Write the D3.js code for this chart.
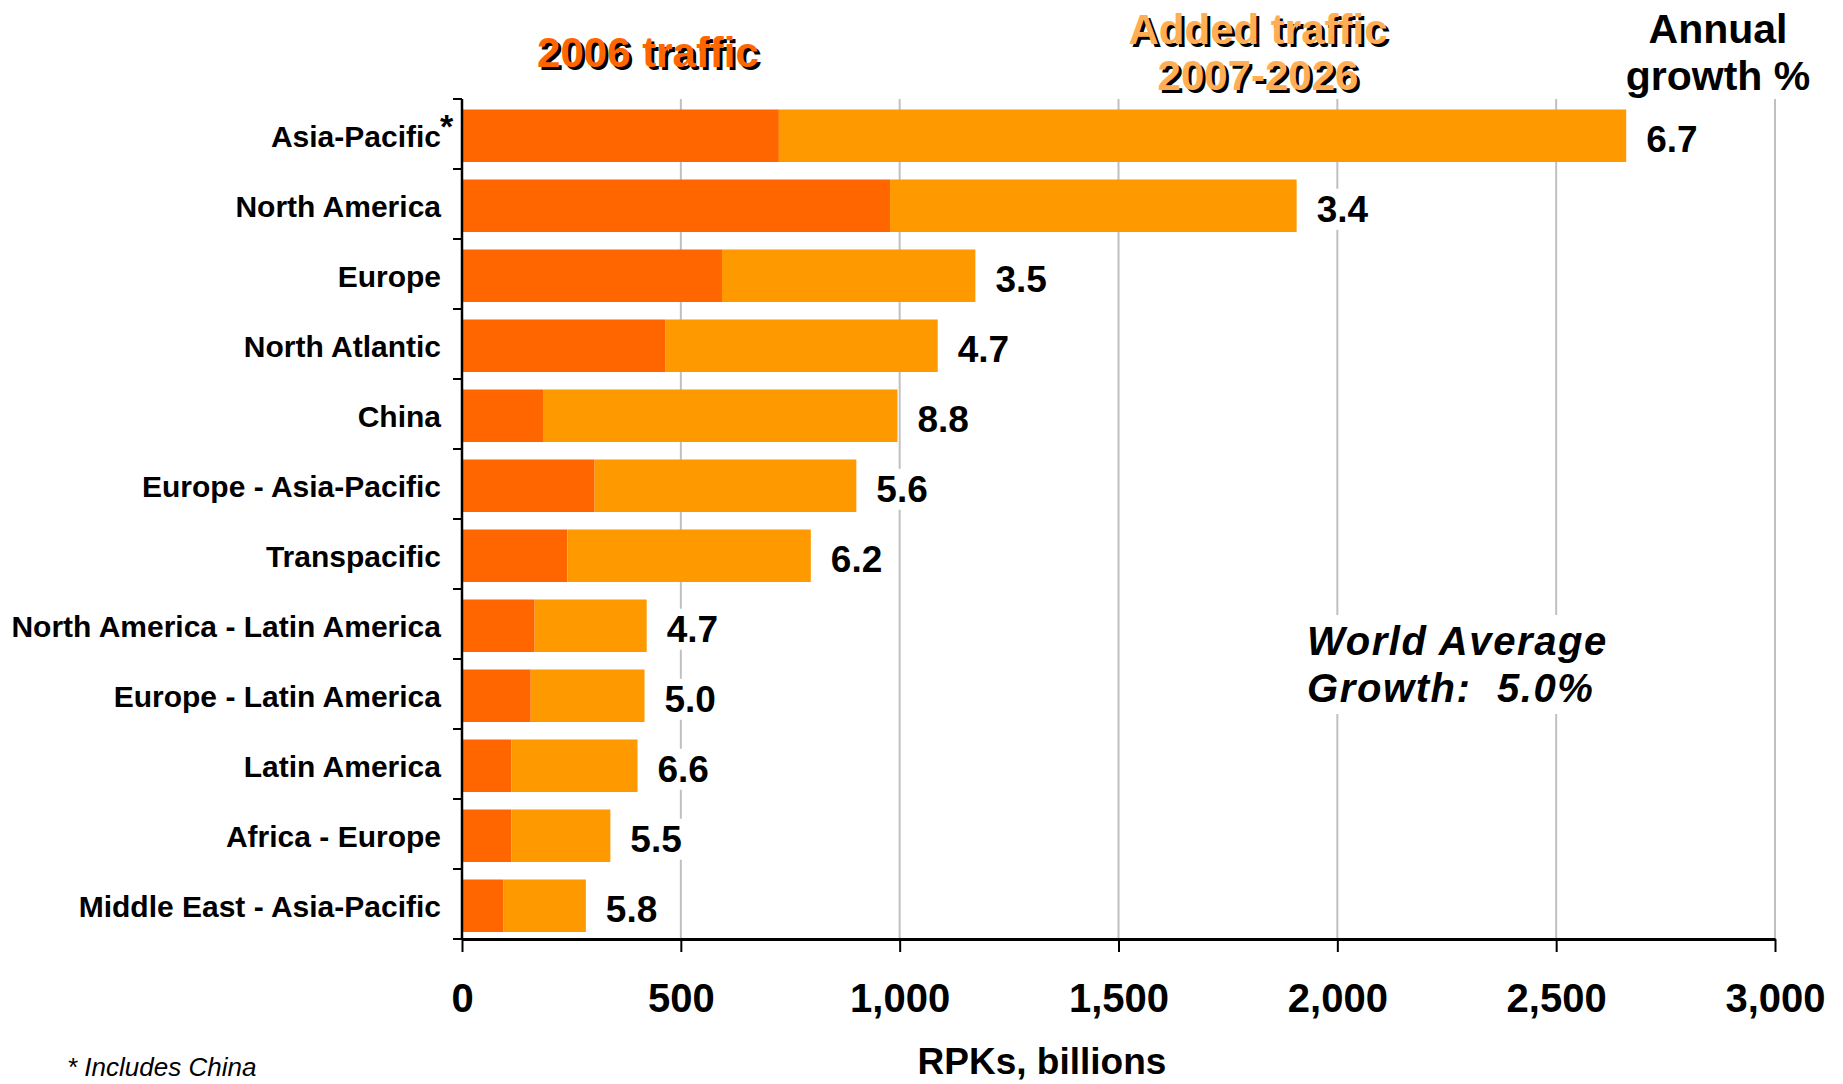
<!DOCTYPE html>
<html>
<head>
<meta charset="utf-8">
<script src="https://cdn.jsdelivr.net/npm/d3@7"></script>
<style>
  html, body { margin: 0; padding: 0; background: #fff; }
  svg { display: block; font-family: "Liberation Sans", Arial, sans-serif; }
</style>
</head>
<body>
<svg id="chart" width="1843" height="1084"></svg>
<script>
const categories = ["Asia-Pacific", "North America", "Europe", "North Atlantic", "China",
  "Europe - Asia-Pacific", "Transpacific", "North America - Latin America",
  "Europe - Latin America", "Latin America", "Africa - Europe", "Middle East - Asia-Pacific"];
const traffic2006 = [724, 978, 594, 464, 185, 303, 241, 166, 157, 113, 113, 94];
const addedTraffic = [1936, 929, 579, 623, 810, 598, 556, 256, 260, 288, 226, 189];
const growth = ["6.7", "3.4", "3.5", "4.7", "8.8", "5.6", "6.2", "4.7", "5.0", "6.6", "5.5", "5.8"];
const xTicks = [0, 500, 1000, 1500, 2000, 2500, 3000];
const seriesKeys = ["t2006", "added"];
const seriesColors = ["#FF6600", "#FF9900"];

const svg = d3.select("#chart");
const x0 = 462, x1 = 1775, yTop = 99, yBot = 939;

const x = d3.scaleLinear().domain([0, 3000]).range([x0, x1]);
const y = d3.scaleBand().domain(categories).range([yTop, yBot])
  .paddingInner(0.25).paddingOuter(0.125).align(0.6);
const yEdge = d3.scaleLinear().domain([0, categories.length]).range([yTop, yBot]);

const rows = categories.map((c, i) => ({ cat: c, t2006: traffic2006[i], added: addedTraffic[i], growth: growth[i] }));
const stacked = d3.stack().keys(seriesKeys)(rows);

// gridlines
svg.append("g").selectAll("line").data(xTicks.filter(d => d > 0)).join("line")
  .attr("x1", d => x(d)).attr("x2", d => x(d))
  .attr("y1", yTop).attr("y2", yBot)
  .attr("stroke", "#C0C0C0").attr("stroke-width", 2);

// bars
svg.append("g").selectAll("g").data(stacked).join("g")
  .attr("fill", (d, i) => seriesColors[i])
  .selectAll("rect").data(d => d).join("rect")
  .attr("x", d => x(d[0]))
  .attr("width", d => x(d[1]) - x(d[0]))
  .attr("y", d => y(d.data.cat))
  .attr("height", y.bandwidth());

// growth labels with white background
const gl = svg.append("g");
rows.forEach(r => {
  const tx = x(r.t2006 + r.added) + 20;
  const cy = y(r.cat) + y.bandwidth() / 2;
  const t = gl.append("text").attr("x", tx).attr("y", cy + 16)
    .attr("font-size", 37).attr("font-weight", "bold").attr("fill", "#000")
    .text(r.growth);
  const bb = t.node().getBBox();
  gl.insert("rect", "text").attr("x", bb.x - 2).attr("y", bb.y).attr("width", bb.width + 4)
    .attr("height", bb.height).attr("fill", "#fff");
});

// x axis
const xAxis = svg.append("g").attr("transform", `translate(0,${yBot})`)
  .call(d3.axisBottom(x).tickValues(xTicks).tickSize(13).tickSizeOuter(0).tickFormat(d3.format(",")));
xAxis.select(".domain").attr("stroke", "#000").attr("stroke-width", 3);
xAxis.selectAll(".tick line").attr("stroke", "#000").attr("stroke-width", 2);
xAxis.selectAll(".tick text").attr("y", 73).attr("dy", 0)
  .attr("font-size", 40).attr("font-weight", "bold").attr("fill", "#000")
  .attr("font-family", "Liberation Sans, Arial, sans-serif");

// y axis line and boundary ticks
svg.append("line").attr("x1", x0).attr("x2", x0).attr("y1", yTop).attr("y2", yBot)
  .attr("stroke", "#000").attr("stroke-width", 2.5);
svg.append("g").selectAll("line").data(d3.range(categories.length + 1)).join("line")
  .attr("x1", x0 - 9).attr("x2", x0).attr("y1", d => yEdge(d)).attr("y2", d => yEdge(d))
  .attr("stroke", "#000").attr("stroke-width", 2);

// category labels
svg.append("g").selectAll("text").data(categories).join("text")
  .attr("x", 441).attr("y", d => y(d) + y.bandwidth() / 2 + 11)
  .attr("text-anchor", "end").attr("font-size", 30).attr("font-weight", "bold").attr("fill", "#000")
  .text(d => d);
svg.append("text").attr("x", 440).attr("y", y(categories[0]) + y.bandwidth() / 2 + 2)
  .attr("font-size", 34).attr("font-weight", "bold").text("*");

// headings with shadow
function shadowText(txt, cx, by, color) {
  svg.append("text").attr("x", cx + 3).attr("y", by + 3).attr("text-anchor", "middle")
    .attr("font-size", 42).attr("font-weight", "bold").attr("fill", "#000").text(txt);
  svg.append("text").attr("x", cx).attr("y", by).attr("text-anchor", "middle")
    .attr("font-size", 42).attr("font-weight", "bold").attr("fill", color).text(txt);
}
shadowText("2006 traffic", 648, 67, "#FF6600");
shadowText("Added traffic", 1258, 44, "#FFAE55");
shadowText("2007-2026", 1258, 90, "#FFAE55");

svg.append("text").attr("x", 1718).attr("y", 43).attr("text-anchor", "middle")
  .attr("font-size", 41).attr("font-weight", "bold").text("Annual");
svg.append("text").attr("x", 1718).attr("y", 90).attr("text-anchor", "middle")
  .attr("font-size", 41).attr("font-weight", "bold").text("growth %");

// world average annotation
const wa = svg.append("g");
const w1 = wa.append("text").attr("x", 1307).attr("y", 655).attr("font-size", 40)
  .attr("font-weight", "bold").attr("font-style", "italic").attr("letter-spacing", 1.6).text("World Average");
const w2 = wa.append("text").attr("x", 1307).attr("y", 702).attr("font-size", 40)
  .attr("font-weight", "bold").attr("font-style", "italic").attr("letter-spacing", 1.6)
  .attr("xml:space", "preserve").text("Growth:  5.0%");
const b1 = w1.node().getBBox(), b2 = w2.node().getBBox();
wa.insert("rect", "text").attr("x", Math.min(b1.x, b2.x) - 6).attr("y", b1.y - 4)
  .attr("width", Math.max(b1.width, b2.width) + 12).attr("height", b2.y + b2.height - b1.y + 8)
  .attr("fill", "#fff");

// axis title
svg.append("text").attr("x", 1042).attr("y", 1074).attr("text-anchor", "middle")
  .attr("font-size", 37).attr("font-weight", "bold").text("RPKs, billions");

// footnote
svg.append("text").attr("x", 67).attr("y", 1076).attr("font-size", 26)
  .attr("font-style", "italic").text("* Includes China");
</script>
</body>
</html>
